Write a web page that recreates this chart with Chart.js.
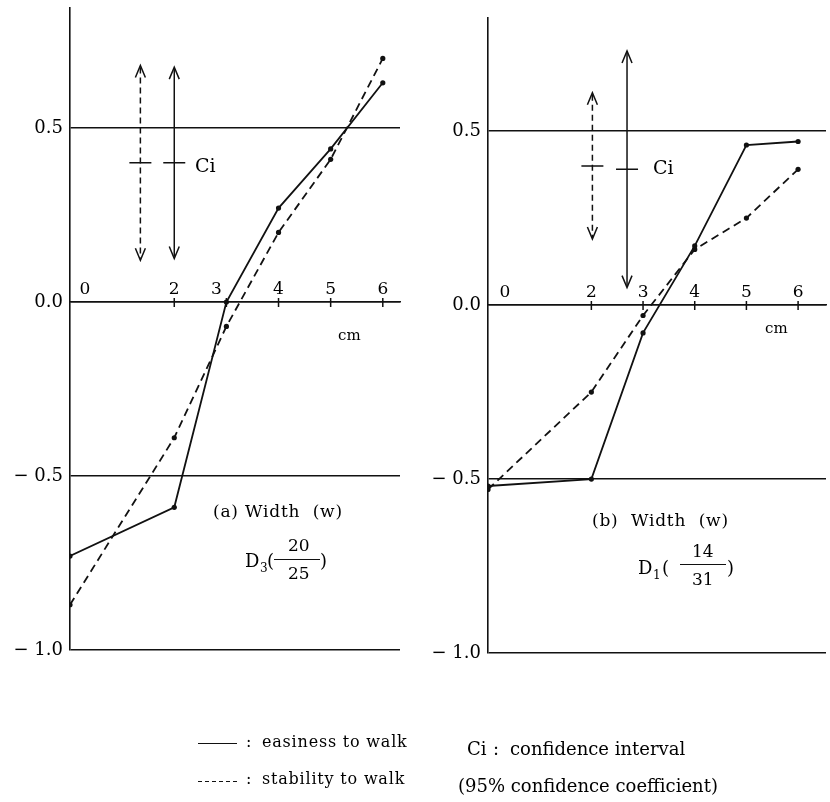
<!DOCTYPE html>
<html>
<head>
<meta charset="utf-8">
<title>Width (w) - easiness / stability to walk</title>
<script src="https://cdn.jsdelivr.net/npm/chart.js@4.4.0/dist/chart.umd.min.js"></script>
<style>
  body { margin: 0; background: #fff; }
  #wrap { position: relative; width: 830px; height: 802px; overflow: hidden; font-family: "DejaVu Serif", serif; color: #000; }
  canvas { position: absolute; left: 0; top: 0; }
  .t { position: absolute; white-space: nowrap; line-height: 1; }
  .rule { position: absolute; height: 0; border-top: 1.3px solid #111; }
</style>
</head>
<body>
<div id="wrap">
  <canvas id="chartA" width="830" height="802"></canvas>
  <canvas id="chartB" width="830" height="802"></canvas>

  <!-- panel (a) -->
  <div class="t" style="left:195px; top:156px; font-size:19px;">Ci</div>
  <div class="t" style="left:338px; top:328px; font-size:15px;">cm</div>
  <div class="t" style="left:213px; top:503px; font-size:17px; letter-spacing:0.8px;">(a) Width&nbsp; (w)</div>
  <div class="t" style="left:245px; top:552px; font-size:18px;">D</div>
  <div class="t" style="left:260px; top:562px; font-size:12px;">3</div>
  <div class="t" style="left:267px; top:552px; font-size:18px;">(</div>
  <div class="t" style="left:288px; top:537px; font-size:17px;">20</div>
  <div class="rule" style="left:274px; top:559px; width:46px;"></div>
  <div class="t" style="left:288px; top:565px; font-size:17px;">25</div>
  <div class="t" style="left:320px; top:552px; font-size:18px;">)</div>

  <!-- panel (b) -->
  <div class="t" style="left:653px; top:158px; font-size:19px;">Ci</div>
  <div class="t" style="left:765px; top:321px; font-size:15px;">cm</div>
  <div class="t" style="left:592px; top:512px; font-size:17px; letter-spacing:0.8px;">(b)&nbsp; Width&nbsp; (w)</div>
  <div class="t" style="left:638px; top:559px; font-size:18px;">D</div>
  <div class="t" style="left:653px; top:569px; font-size:12px;">1</div>
  <div class="t" style="left:662px; top:559px; font-size:18px;">(</div>
  <div class="t" style="left:692px; top:543px; font-size:17px;">14</div>
  <div class="rule" style="left:680px; top:564px; width:46px;"></div>
  <div class="t" style="left:692px; top:571px; font-size:17px;">31</div>
  <div class="t" style="left:727px; top:559px; font-size:18px;">)</div>

  <!-- legend -->
  <div class="rule" style="left:198px; top:743px; width:39px;"></div>
  <div style="position:absolute; left:198px; top:781px; width:39px; height:1.3px; background:repeating-linear-gradient(90deg,#111 0 4px,transparent 4px 7px);"></div>
  <div class="t" style="left:246px; top:734px; font-size:16px;">:</div>
  <div class="t" style="left:262px; top:734px; font-size:16px; letter-spacing:0.8px;">easiness to walk</div>
  <div class="t" style="left:246px; top:771px; font-size:16px;">:</div>
  <div class="t" style="left:262px; top:771px; font-size:16px; letter-spacing:0.8px;">stability to walk</div>
  <div class="t" style="left:467px; top:740px; font-size:18px;">Ci</div>
  <div class="t" style="left:493px; top:740px; font-size:18px;">:</div>
  <div class="t" style="left:510px; top:740px; font-size:18px;">confidence interval</div>
  <div class="t" style="left:458px; top:777px; font-size:18px;">(95% confidence coefficient)</div>
</div>

<script>
// widths on the x axis (cm)
const widthCm = [0, 2, 3, 4, 5, 6];
const xTickLabels = [0, 2, 3, 4, 5, 6];
const yTicks = [-1.0, -0.5, 0.0, 0.5];

// (a) D3 (20/25)
const easinessA = [-0.73, -0.59, 0.00, 0.27, 0.44, 0.63];
const stabilityA = [-0.87, -0.39, -0.07, 0.20, 0.41, 0.70];

// (b) D1 (14/31)
const easinessB = [-0.52, -0.50, -0.08, 0.17, 0.46, 0.47];
const stabilityB = [-0.53, -0.25, -0.03, 0.16, 0.25, 0.39];

// confidence interval marks: first = stability (dashed), second = easiness (solid)
const ciXA = [1.35, 2.0];
const ciMidA = [0.40, 0.40];
const ciHalfA = [0.28, 0.275];
const ciXB = [2.02, 2.69];
const ciMidB = [0.40, 0.39];
const ciHalfB = [0.21, 0.34];

const ink = '#111';
const serif = '"DejaVu Serif", serif';

const toPoints = (ys) => widthCm.map((x, i) => ({ x: x, y: ys[i] }));

// draws the Ci double arrows with the chart's own scales
const makeCiPlugin = (xs, mids, halves) => ({
    id: 'ciMarks',
    afterDatasetsDraw(chart) {
        const { ctx, scales } = chart;
        ctx.save();
        ctx.strokeStyle = ink;
        ctx.lineWidth = 1.5;
        xs.forEach((xv, i) => {
            const px = scales.x.getPixelForValue(xv);
            const top = scales.y.getPixelForValue(mids[i] + halves[i]);
            const bot = scales.y.getPixelForValue(mids[i] - halves[i]);
            const mid = scales.y.getPixelForValue(mids[i]);
            ctx.setLineDash(i === 0 ? [6, 4] : []);
            ctx.beginPath();
            ctx.moveTo(px, top + 2);
            ctx.lineTo(px, bot - 2);
            ctx.stroke();
            ctx.setLineDash([]);
            ctx.beginPath();
            ctx.moveTo(px - 5, top + 12);
            ctx.lineTo(px, top);
            ctx.lineTo(px + 5, top + 12);
            ctx.moveTo(px - 5, bot - 12);
            ctx.lineTo(px, bot);
            ctx.lineTo(px + 5, bot - 12);
            ctx.moveTo(px - 11, mid);
            ctx.lineTo(px + 11, mid);
            ctx.stroke();
        });
        ctx.restore();
    }
});

// x tick marks cross the 0.0 line, numbers sit above it
const makeXLabelPlugin = (shift) => ({
    id: 'xLabels',
    afterDraw(chart) {
        const { ctx, scales } = chart;
        const y0 = scales.y.getPixelForValue(0);
        ctx.save();
        ctx.strokeStyle = ink;
        ctx.lineWidth = 1.5;
        ctx.beginPath();
        xTickLabels.filter(v => v > 0).forEach((v) => {
            const px = scales.x.getPixelForValue(v);
            ctx.moveTo(px, y0 - 4);
            ctx.lineTo(px, y0 + 5);
        });
        ctx.stroke();
        ctx.fillStyle = '#000';
        ctx.font = '17px ' + serif;
        ctx.textAlign = 'center';
        ctx.textBaseline = 'alphabetic';
        xTickLabels.forEach((v) => {
            const px = scales.x.getPixelForValue(v) + (shift[v] || 0);
            ctx.fillText(String(v), px, y0 - 8);
        });
        ctx.restore();
    }
});

const makeChart = (id, cfg) => {
    const ctx = document.getElementById(id);
    return new Chart(ctx, {
        type: 'line',
        data: {
            datasets: [{
                label: 'easiness to walk',
                data: toPoints(cfg.easiness),
                borderColor: ink,
                borderWidth: 1.8,
                pointRadius: 2.6,
                pointBackgroundColor: ink,
                pointBorderWidth: 0,
                tension: 0,
            }, {
                label: 'stability to walk',
                data: toPoints(cfg.stability),
                borderColor: ink,
                borderWidth: 1.8,
                borderDash: [8, 5],
                pointRadius: 2.6,
                pointBackgroundColor: ink,
                pointBorderWidth: 0,
                tension: 0,
            }],
        },
        options: {
            responsive: false,
            animation: false,
            events: [],
            layout: { padding: cfg.padding },
            plugins: { legend: { display: false }, tooltip: { enabled: false } },
            scales: {
                x: {
                    type: 'linear',
                    min: 0,
                    max: cfg.xMax,
                    position: { y: 0 },
                    border: { display: true, color: ink, width: 1.6 },
                    grid: { display: false },
                    ticks: { display: false },
                },
                y: {
                    type: 'linear',
                    min: -1,
                    max: cfg.yMax,
                    position: 'left',
                    border: { display: true, color: ink, width: 1.6 },
                    grid: { color: ink, lineWidth: 1.5, drawTicks: false },
                    ticks: {
                        padding: 7,
                        color: '#000',
                        font: { family: serif, size: 18 },
                        callback: (v) => (v < 0 ? '\u2212 ' : '') + Math.abs(v).toFixed(1),
                    },
                    afterBuildTicks: (s) => { s.ticks = yTicks.map(v => ({ value: v })); },
                    afterFit: (s) => { s.width = 70; s.paddingTop = 0; s.paddingBottom = 0; },
                },
            },
        },
        plugins: [makeCiPlugin(cfg.ciX, cfg.ciMid, cfg.ciHalf), makeXLabelPlugin(cfg.labelShift)],
    });
};

makeChart('chartA', {
    easiness: easinessA,
    stability: stabilityA,
    ciX: ciXA, ciMid: ciMidA, ciHalf: ciHalfA,
    xMax: 6.33,
    yMax: 0.845,
    padding: { left: 0, top: 8, right: 430, bottom: 152 },
    labelShift: { 0: 15, 3: -10 },
});

makeChart('chartB', {
    easiness: easinessB,
    stability: stabilityB,
    ciX: ciXB, ciMid: ciMidB, ciHalf: ciHalfB,
    xMax: 6.54,
    yMax: 0.825,
    padding: { left: 418, top: 18, right: 0, bottom: 149 },
    labelShift: { 0: 17 },
});
</script>
</body>
</html>
